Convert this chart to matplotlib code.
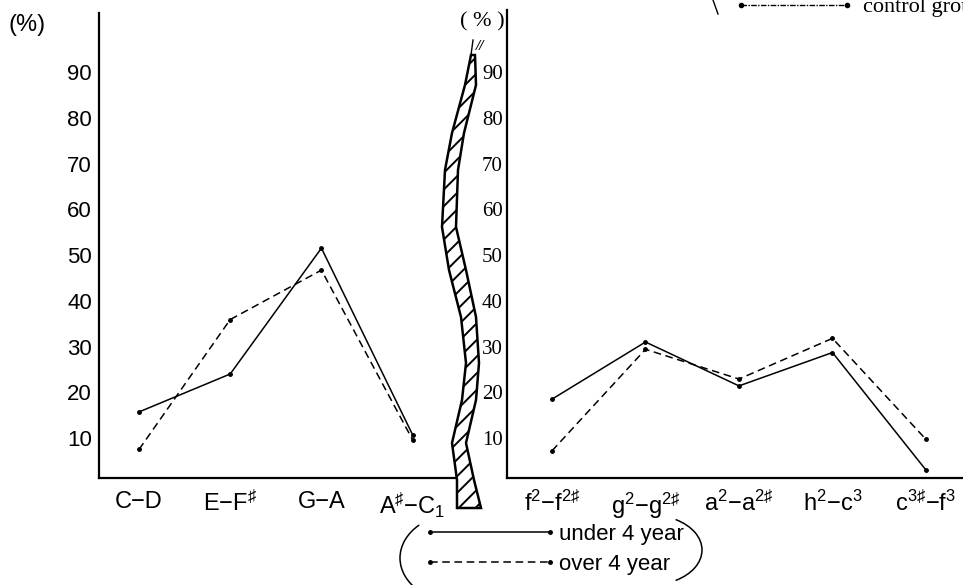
import matplotlib
matplotlib.use('Agg')
from matplotlib import pyplot as plt
from matplotlib.patches import Polygon, Arc
from matplotlib.lines import Line2D

plt.rcParams['mathtext.fontset'] = 'custom'
plt.rcParams['mathtext.rm'] = 'Liberation Sans'
plt.rcParams['mathtext.it'] = 'Liberation Sans'
plt.rcParams['mathtext.sf'] = 'Liberation Sans'
plt.rcParams['hatch.linewidth'] = 1.4

# left panel: low register
low_labels = ['C\u2212D', 'E\u2212F$^{\\sharp}$', 'G\u2212A', 'A$^{\\sharp}$\u2212C$_{1}$']
low_under = [15.7, 24.0, 51.5, 10.7]
low_over = [7.5, 35.9, 46.7, 9.6]

# right panel: high register
high_labels = ['f$^{2}$\u2212f$^{2\\sharp}$', 'g$^{2}$\u2212g$^{2\\sharp}$',
               'a$^{2}$\u2212a$^{2\\sharp}$', 'h$^{2}$\u2212c$^{3}$',
               'c$^{3\\sharp}$\u2212f$^{3}$']
high_under = [18.5, 31.0, 21.4, 28.7, 3.0]
high_over = [7.2, 29.4, 22.9, 31.8, 9.7]

yticks = [10, 20, 30, 40, 50, 60, 70, 80, 90]

sans = 'Liberation Sans'
serif = 'Liberation Serif'
dash = (0, (5, 3))

fig = plt.figure(figsize=(9.63, 5.85), dpi=100)

# left panel
ax1 = fig.add_axes([0.1028, 0.1829, 0.3718, 0.7949])
x1 = list(range(len(low_labels)))
ax1.plot(x1, low_under, color='black', lw=1.1, marker='o', ms=2.5)
ax1.plot(x1, low_over, color='black', lw=1.1, ls=dash, marker='o', ms=2.5)
ax1.set_xlim(-0.439, 3.487)
ax1.set_ylim(1.26, 102.9)
ax1.set_xticks(x1)
ax1.set_xticklabels(low_labels, fontfamily=sans, fontsize=17)
ax1.set_yticks(yticks)
ax1.set_yticklabels([str(v) for v in yticks], fontfamily=sans, fontsize=16)
ax1.tick_params(axis='both', length=0)
ax1.tick_params(axis='x', pad=9)
ax1.tick_params(axis='y', pad=5)

# right panel
ax2 = fig.add_axes([0.5265, 0.1829, 0.4735, 0.8000])
x2 = list(range(len(high_labels)))
ax2.plot(x2, high_under, color='black', lw=1.1, marker='o', ms=2.5)
ax2.plot(x2, high_over, color='black', lw=1.1, ls=dash, marker='o', ms=2.5)
ax2.set_xlim(-0.481, 4.396)
ax2.set_ylim(1.26, 103.6)
ax2.set_xticks(x2)
ax2.set_xticklabels(high_labels, fontfamily=sans, fontsize=17)
ax2.set_yticks(yticks)
ax2.set_yticklabels([str(v) for v in yticks], fontfamily=serif, fontsize=15)
ax2.tick_params(axis='both', length=0)
ax2.tick_params(axis='x', pad=9)
ax2.tick_params(axis='y', pad=3)

for ax in [ax1, ax2]:
    ax.patch.set_visible(False)
    ax.spines['top'].set_visible(False)
    ax.spines['right'].set_visible(False)
    ax.spines['left'].set_linewidth(1.6)
    ax.spines['bottom'].set_linewidth(1.6)

# overlay in pixel coordinates for the break mark and annotations
ov = fig.add_axes([0, 0, 1, 1])
ov.set_xlim(0, 963)
ov.set_ylim(585, 0)
ov.axis('off')
ov.patch.set_visible(False)

band_left = [(471, 55), (465, 85), (452, 133), (445, 170), (442, 227), (449, 270),
             (461, 317), (466, 363), (462, 400), (452, 443), (457, 480), (457, 508)]
band_right = [(475, 55), (476, 85), (464, 133), (458, 170), (456, 227), (466, 270),
              (476, 317), (479, 363), (476, 400), (466, 443), (474, 480), (481, 508)]
band = Polygon(band_left + band_right[::-1], closed=True, facecolor='white',
               edgecolor='black', hatch='//', lw=1.8)
ov.add_patch(band)
ov.plot([471, 473], [55, 40], color='black', lw=1.0)
ov.text(480, 47, '//', fontfamily=serif, fontsize=11, fontweight='bold',
        style='italic', ha='center', va='center')

ov.text(8, 25, '(%)', fontfamily=sans, fontsize=17, ha='left', va='center')
ov.text(482, 22, '( % )', fontfamily=serif, fontsize=16, ha='center', va='center')

# bottom legend
h_under = Line2D([], [], color='black', lw=1.1, marker='o', ms=2.5)
h_over = Line2D([], [], color='black', lw=1.1, ls=dash, marker='o', ms=2.5)
leg = fig.legend([h_under, h_over], ['under 4 year', 'over 4 year'],
                 loc='upper left', bbox_to_anchor=(423 / 963, 1 - 524 / 585),
                 frameon=False, numpoints=2, handlelength=6.0, handletextpad=0.1,
                 labelspacing=0.4, borderpad=0, borderaxespad=0,
                 prop={'family': sans, 'size': 16})
ov.add_patch(Arc((460, 558), 120, 90, theta1=141, theta2=219,
                 color='black', lw=1.1))
ov.add_patch(Arc((650, 550), 104, 70, theta1=-50, theta2=50,
                 color='black', lw=1.1))

# top legend (cut by the page edge)
h_ctrl = Line2D([], [], color='black', lw=1.0, ls=(0, (4, 1, 1, 1)), marker='o', ms=3)
fig.legend([h_ctrl], ['control group'], loc='center left',
           bbox_to_anchor=(734 / 963, 1 - 7 / 585), frameon=False, numpoints=2,
           handlelength=5.4, handletextpad=0.4, borderpad=0, borderaxespad=0,
           prop={'family': serif, 'size': 16})
ov.plot([713, 718], [0, 14], color='black', lw=1.0)

fig.savefig('out.png', dpi=100)
